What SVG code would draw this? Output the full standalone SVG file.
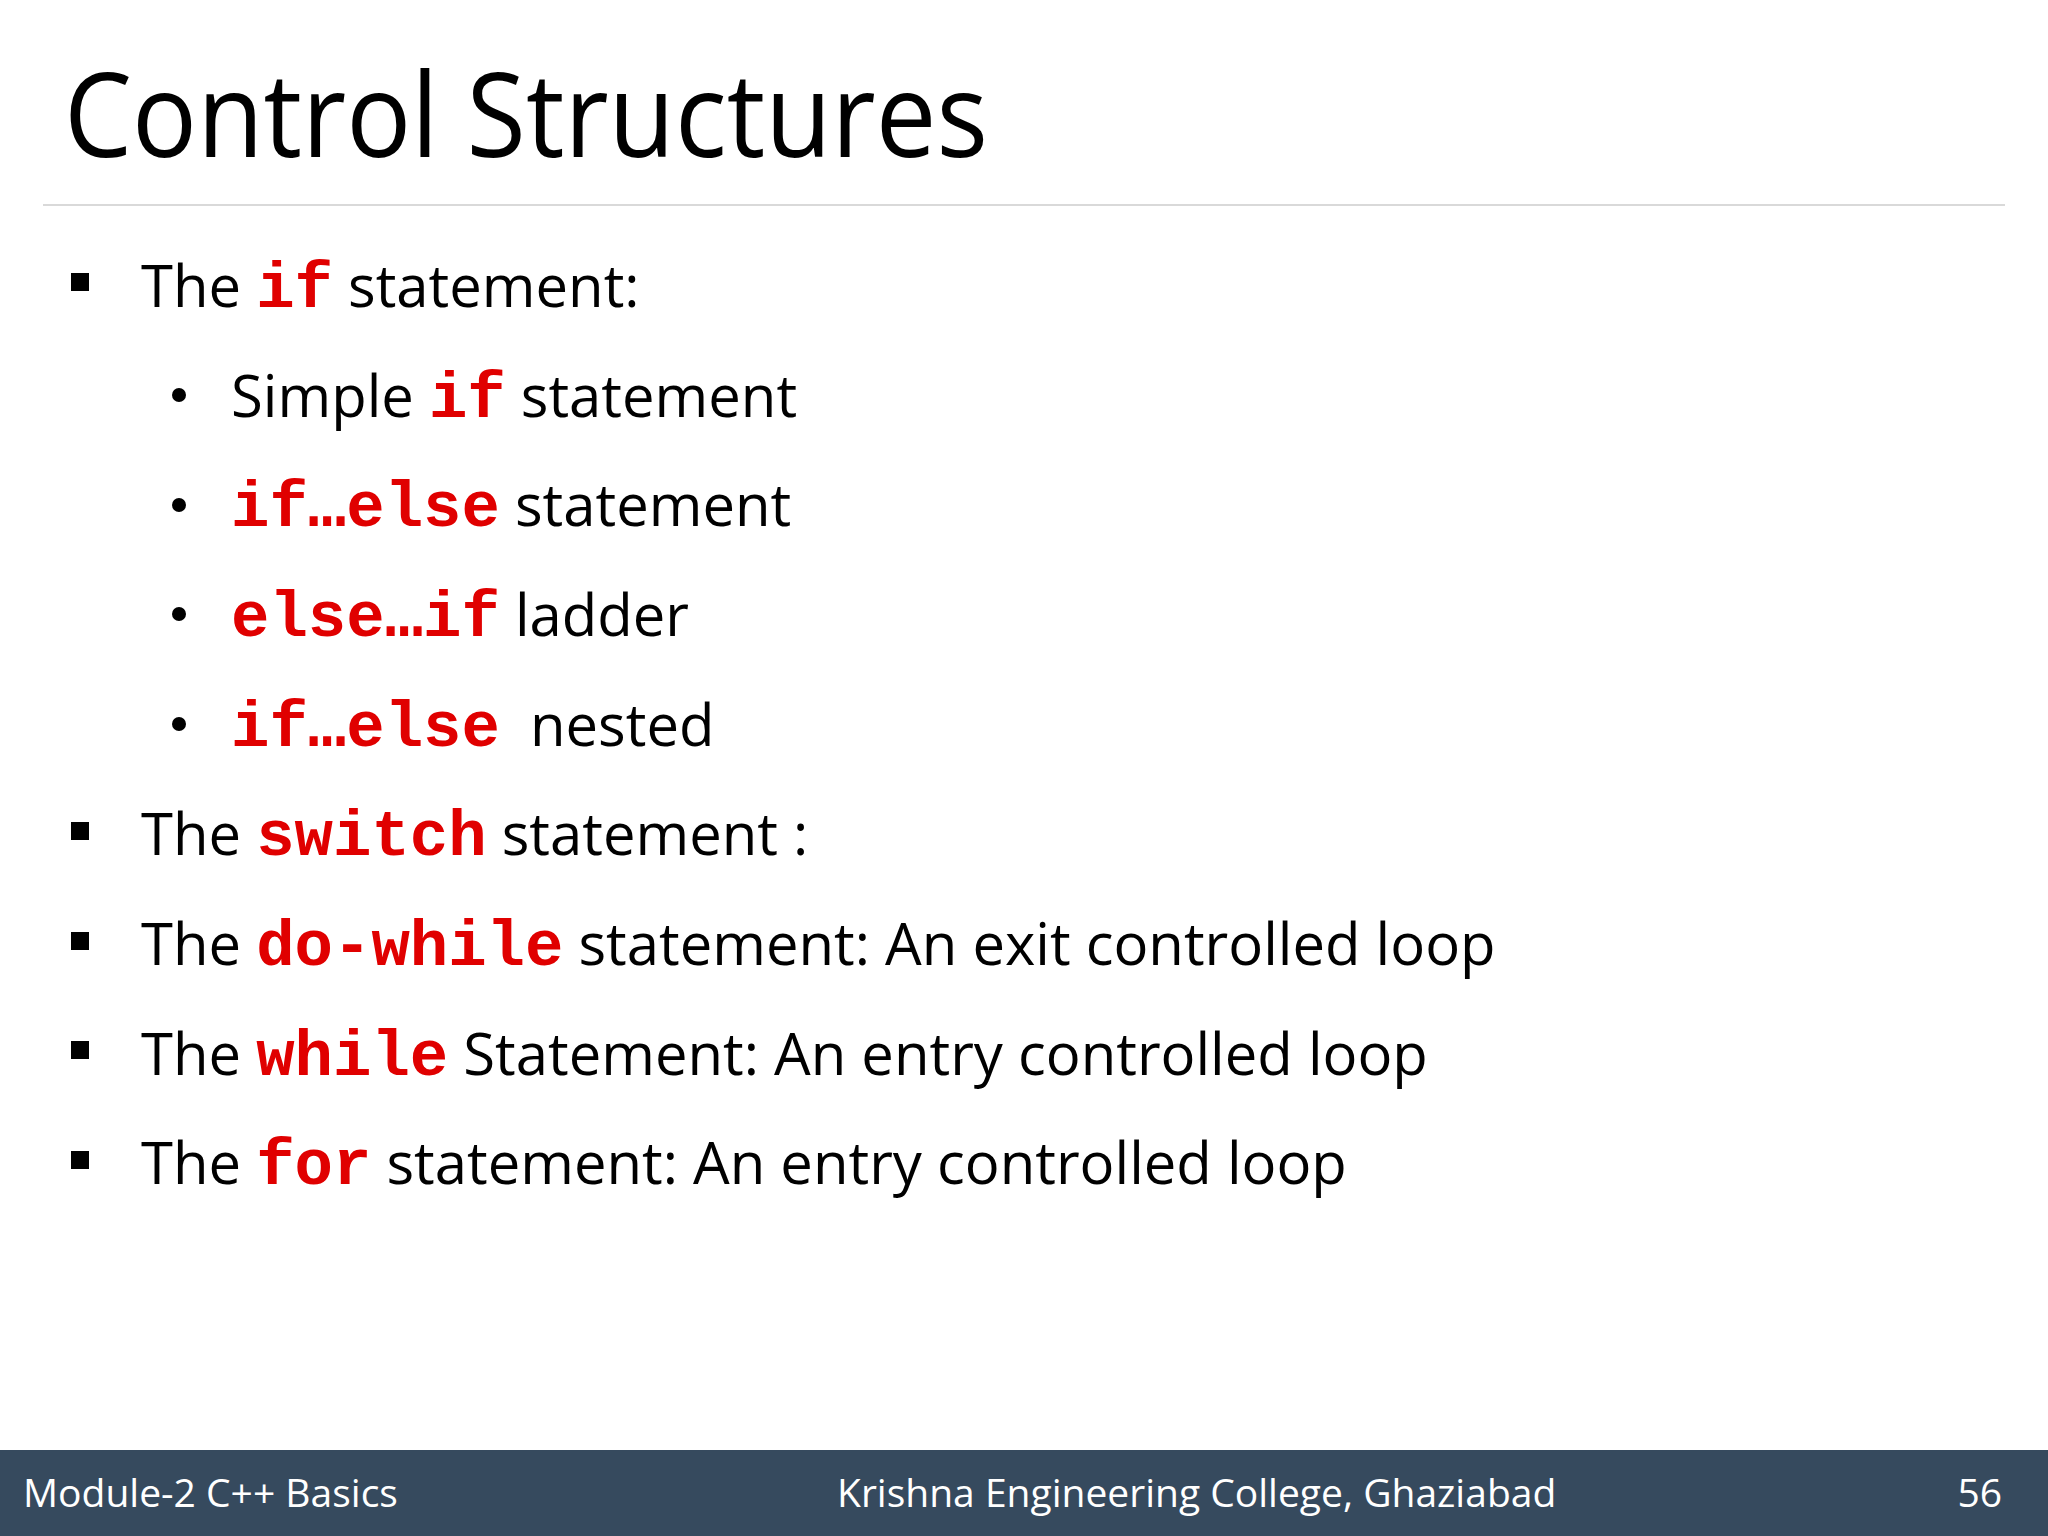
<svg xmlns="http://www.w3.org/2000/svg" width="2048" height="1536" viewBox="0 0 2048 1536">
<style>
.t{font-family:"Open Sans","Noto Sans",sans-serif;font-size:58px;fill:#000}
.c{font-family:"Liberation Mono","Courier New",monospace;font-weight:bold;fill:#e00000;font-size:64px}
.f{font-family:"Open Sans","Noto Sans",sans-serif;font-size:39px;fill:#fff}
</style>
<rect width="2048" height="1536" fill="#fff"/>
<text x="64" y="157" font-family="Open Sans, sans-serif" font-size="118" textLength="924" lengthAdjust="spacingAndGlyphs">Control Structures</text>
<line x1="43" y1="205" x2="2005" y2="205" stroke="#d9d9d9" stroke-width="2"/>
<g id="b1"><rect x="71" y="273" width="18" height="18"/><text class="t" x="141" y="307">The <tspan class="c">if</tspan> statement:</text></g>
<g id="b1a"><circle cx="179" cy="395" r="7"/><text class="t" x="231" y="417">Simple <tspan class="c">if</tspan> statement</text></g>
<g id="b1b"><circle cx="179" cy="505" r="7"/><text class="t" x="231" y="526"><tspan class="c">if…else</tspan> statement</text></g>
<g id="b1c"><circle cx="179" cy="614" r="7"/><text class="t" x="231" y="636"><tspan class="c">else…if</tspan> ladder</text></g>
<g id="b1d"><circle cx="179" cy="724" r="7"/><text class="t" x="231" y="746" xml:space="preserve"><tspan class="c">if…else</tspan>  nested</text></g>
<g id="b2"><rect x="71" y="822" width="18" height="18"/><text class="t" x="141" y="855">The <tspan class="c">switch</tspan> statement :</text></g>
<g id="b3"><rect x="71" y="932" width="18" height="18"/><text class="t" x="141" y="965">The <tspan class="c">do-while</tspan> statement: An exit controlled loop</text></g>
<g id="b4"><rect x="71" y="1041" width="18" height="18"/><text class="t" x="141" y="1075">The <tspan class="c">while</tspan> Statement: An entry controlled loop</text></g>
<g id="b5"><rect x="71" y="1151" width="18" height="18"/><text class="t" x="141" y="1184">The <tspan class="c">for</tspan> statement: An entry controlled loop</text></g>
<g id="footer"><rect x="0" y="1450" width="2048" height="86" fill="#364a5e"/>
<text class="f" x="23" y="1507">Module-2 C++ Basics</text>
<text class="f" x="837" y="1507">Krishna Engineering College, Ghaziabad</text>
<text class="f" x="2002" y="1507" text-anchor="end">56</text></g>
</svg>
